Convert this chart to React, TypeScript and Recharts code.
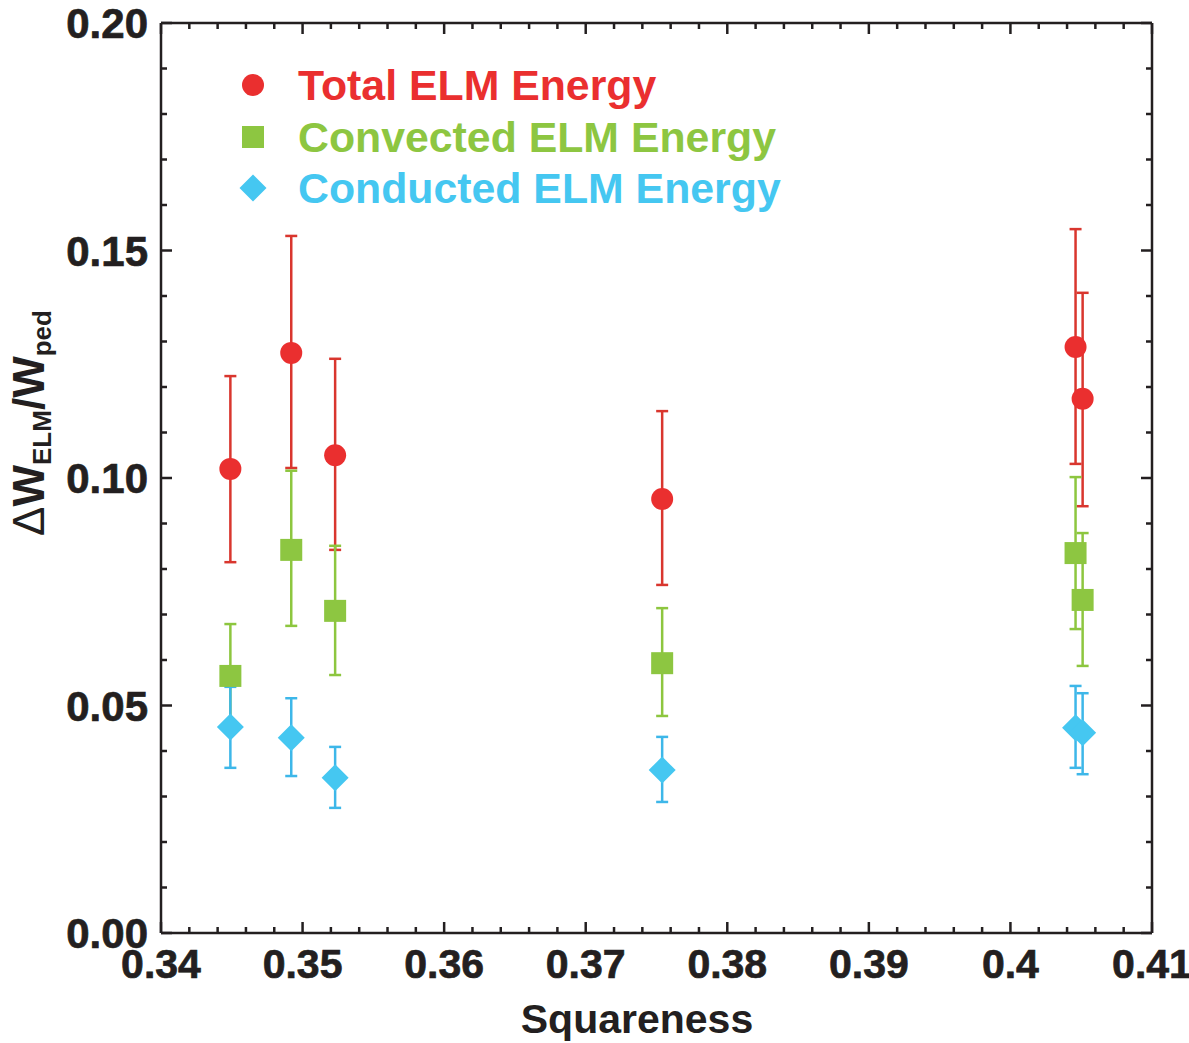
import React from 'react';
import { ScatterChart, Scatter, XAxis, YAxis, ErrorBar, Legend } from 'recharts';

// ---- data ----
const squareness = [0.3449, 0.3492, 0.3523, 0.3754, 0.4046, 0.4051];

const totalEnergy = [0.102, 0.1275, 0.105, 0.0954, 0.1288, 0.1174];
const totalLow = [0.0815, 0.1022, 0.0842, 0.0765, 0.1031, 0.0938];
const totalHigh = [0.1224, 0.1532, 0.1262, 0.1147, 0.1547, 0.1407];

const convectedEnergy = [0.0565, 0.0842, 0.0708, 0.0593, 0.0835, 0.0732];
const convectedLow = [0.045, 0.0675, 0.0567, 0.0477, 0.0668, 0.0587];
const convectedHigh = [0.0679, 0.1016, 0.0851, 0.0714, 0.1002, 0.0879];

const conductedEnergy = [0.0453, 0.0429, 0.0341, 0.0358, 0.0451, 0.044];
const conductedLow = [0.0363, 0.0345, 0.0275, 0.0288, 0.0363, 0.0349];
const conductedHigh = [0.0541, 0.0516, 0.0409, 0.0431, 0.0543, 0.0527];

const seriesNames = ['Total ELM Energy', 'Convected ELM Energy', 'Conducted ELM Energy'];
const markerColors = ['#ea2f2f', '#8dc641', '#45c7f1'];
const barColors = ['#d9362e', '#8dc63f', '#3db7e9'];
const markerShapes = ['circle', 'square', 'diamond'];

const xMajorTicks = [0.34, 0.35, 0.36, 0.37, 0.38, 0.39, 0.4, 0.41];
const yMajorTicks = [0, 0.05, 0.1, 0.15, 0.2];
const xTicks = Array.from({ length: 36 }, (_, i) => +(0.34 + i * 0.002).toFixed(3));
const yTicks = Array.from({ length: 21 }, (_, i) => +(i * 0.01).toFixed(2));

const build = (ys: number[], lo: number[], hi: number[]) =>
  squareness.map((x, i) => ({ x, y: ys[i], err: [ys[i] - lo[i], hi[i] - ys[i]] }));

const seriesData = [
  build(totalEnergy, totalLow, totalHigh),
  build(convectedEnergy, convectedLow, convectedHigh),
  build(conductedEnergy, conductedLow, conductedHigh),
];

const FONT = '"Liberation Sans", Arial, Helvetica, sans-serif';
const AX = '#231f20';

const isMajor = (v: number, list: number[]) => list.some((m) => Math.abs(m - v) < 1e-6);
const fmtX = (v: number) => String(Number(v.toFixed(2)));

const Marker = ({ cx, cy, kind, color }: any) => {
  if (kind === 'circle') return <circle cx={cx} cy={cy} r={11} fill={color} />;
  if (kind === 'square') return <rect x={cx - 11} y={cy - 11} width={22} height={22} fill={color} />;
  const d = 13.5;
  return <polygon points={`${cx},${cy - d} ${cx + d},${cy} ${cx},${cy + d} ${cx - d},${cy}`} fill={color} />;
};

const XTickBottom = (props: any) => {
  const { x, y, payload } = props;
  const major = isMajor(payload.value, xMajorTicks);
  return (
    <g>
      <line x1={x} x2={x} y1={y} y2={y - (major ? 11 : 6)} stroke={AX} strokeWidth={2.5} />
      {major && (
        <text
          x={x}
          y={y + 45}
          textAnchor="middle"
          fontFamily={FONT}
          fontWeight="bold"
          fontSize={41}
          fill={AX}
          stroke={AX}
          strokeWidth={0.7}
        >
          {fmtX(payload.value)}
        </text>
      )}
    </g>
  );
};

const XTickTop = (props: any) => {
  const { x, y, payload } = props;
  const major = isMajor(payload.value, xMajorTicks);
  return <line x1={x} x2={x} y1={y} y2={y + (major ? 11 : 6)} stroke={AX} strokeWidth={2.5} />;
};

const YTickLeft = (props: any) => {
  const { x, y, payload } = props;
  const major = isMajor(payload.value, yMajorTicks);
  return (
    <g>
      <line x1={x} x2={x + (major ? 11 : 6)} y1={y} y2={y} stroke={AX} strokeWidth={2.5} />
      {major && (
        <text
          x={x - 13}
          y={y}
          dy="0.36em"
          textAnchor="end"
          fontFamily={FONT}
          fontWeight="bold"
          fontSize={42}
          fill={AX}
          stroke={AX}
          strokeWidth={0.7}
        >
          {payload.value.toFixed(2)}
        </text>
      )}
    </g>
  );
};

const YTickRight = (props: any) => {
  const { x, y, payload } = props;
  const major = isMajor(payload.value, yMajorTicks);
  return <line x1={x} x2={x - (major ? 11 : 6)} y1={y} y2={y} stroke={AX} strokeWidth={2.5} />;
};

const XTitle = () => (
  <text x={637} y={1033} textAnchor="middle" fontFamily={FONT} fontWeight="bold" fontSize={41} fill={AX}>
    Squareness
  </text>
);

const YTitle = () => (
  <text
    x={44}
    y={423}
    transform="rotate(-90 44 423)"
    textAnchor="middle"
    fontFamily={FONT}
    fontWeight="bold"
    fontSize={44}
    fill={AX}
  >
    <tspan fontWeight="normal">Δ</tspan>
    <tspan>W</tspan>
    <tspan fontSize={26} dy={7}>ELM</tspan>
    <tspan dy={-7}>/W</tspan>
    <tspan fontSize={26} dy={7}>ped</tspan>
  </text>
);

const LegendContent = () => (
  <div style={{ position: 'relative', width: 0, height: 0 }}>
    {seriesNames.map((name, i) => {
      const cy = 85 + i * 51.5;
      return (
        <React.Fragment key={name}>
          <svg
            width={30}
            height={30}
            style={{ position: 'absolute', left: 253 - 15, top: cy - 15, overflow: 'visible' }}
          >
            <Marker cx={15} cy={15} kind={markerShapes[i]} color={markerColors[i]} />
          </svg>
          <div
            style={{
              position: 'absolute',
              left: 298,
              top: cy - 25,
              height: 50,
              lineHeight: '50px',
              whiteSpace: 'nowrap',
              fontFamily: FONT,
              fontWeight: 'bold',
              fontSize: 42.8,
              color: markerColors[i],
            }}
          >
            {name}
          </div>
        </React.Fragment>
      );
    })}
  </div>
);

export default function App() {
  return (
    <div style={{ position: 'absolute', left: 0, top: 0, width: 1189, height: 1043, background: '#fff' }}>
      <ScatterChart width={1189} height={1043} margin={{ top: 22, right: 36, left: 0, bottom: 0 }}>
        <XAxis
          xAxisId="b"
          type="number"
          dataKey="x"
          orientation="bottom"
          domain={[0.34, 0.41]}
          allowDataOverflow
          ticks={xTicks}
          interval={0}
          tickSize={0}
          tickMargin={0}
          tickLine={false}
          tick={<XTickBottom />}
          height={110}
          axisLine={{ stroke: AX, strokeWidth: 2.5 }}
          label={<XTitle />}
        />
        <XAxis
          xAxisId="t"
          type="number"
          dataKey="x"
          orientation="top"
          domain={[0.34, 0.41]}
          allowDataOverflow
          ticks={xTicks}
          interval={0}
          tickSize={0}
          tickMargin={0}
          tickLine={false}
          tick={<XTickTop />}
          height={1}
          axisLine={{ stroke: AX, strokeWidth: 2.5 }}
        />
        <YAxis
          yAxisId="l"
          type="number"
          dataKey="y"
          orientation="left"
          domain={[0, 0.2]}
          allowDataOverflow
          ticks={yTicks}
          interval={0}
          tickSize={0}
          tickMargin={0}
          tickLine={false}
          tick={<YTickLeft />}
          width={161}
          axisLine={{ stroke: AX, strokeWidth: 2.5 }}
          label={<YTitle />}
        />
        <YAxis
          yAxisId="r"
          type="number"
          dataKey="y"
          orientation="right"
          domain={[0, 0.2]}
          allowDataOverflow
          ticks={yTicks}
          interval={0}
          tickSize={0}
          tickMargin={0}
          tickLine={false}
          tick={<YTickRight />}
          width={1}
          axisLine={{ stroke: AX, strokeWidth: 2.5 }}
        />
        <Scatter xAxisId="t" yAxisId="r" data={seriesData[0]} shape={() => <g />} isAnimationActive={false} />
        {seriesData.map((data, i) => (
          <Scatter
            key={seriesNames[i]}
            name={seriesNames[i]}
            xAxisId="b"
            yAxisId="l"
            data={data}
            isAnimationActive={false}
            shape={(p: any) => <Marker cx={p.cx} cy={p.cy} kind={markerShapes[i]} color={markerColors[i]} />}
          >
            <ErrorBar
              dataKey="err"
              direction="y"
              width={6}
              stroke={barColors[i]}
              strokeWidth={2.5}
              isAnimationActive={false}
            />
          </Scatter>
        ))}
        <Legend
          layout="vertical"
          align="center"
          verticalAlign="middle"
          wrapperStyle={{ left: 0, top: 0, width: 0, height: 0 }}
          content={<LegendContent />}
        />
      </ScatterChart>
    </div>
  );
}
